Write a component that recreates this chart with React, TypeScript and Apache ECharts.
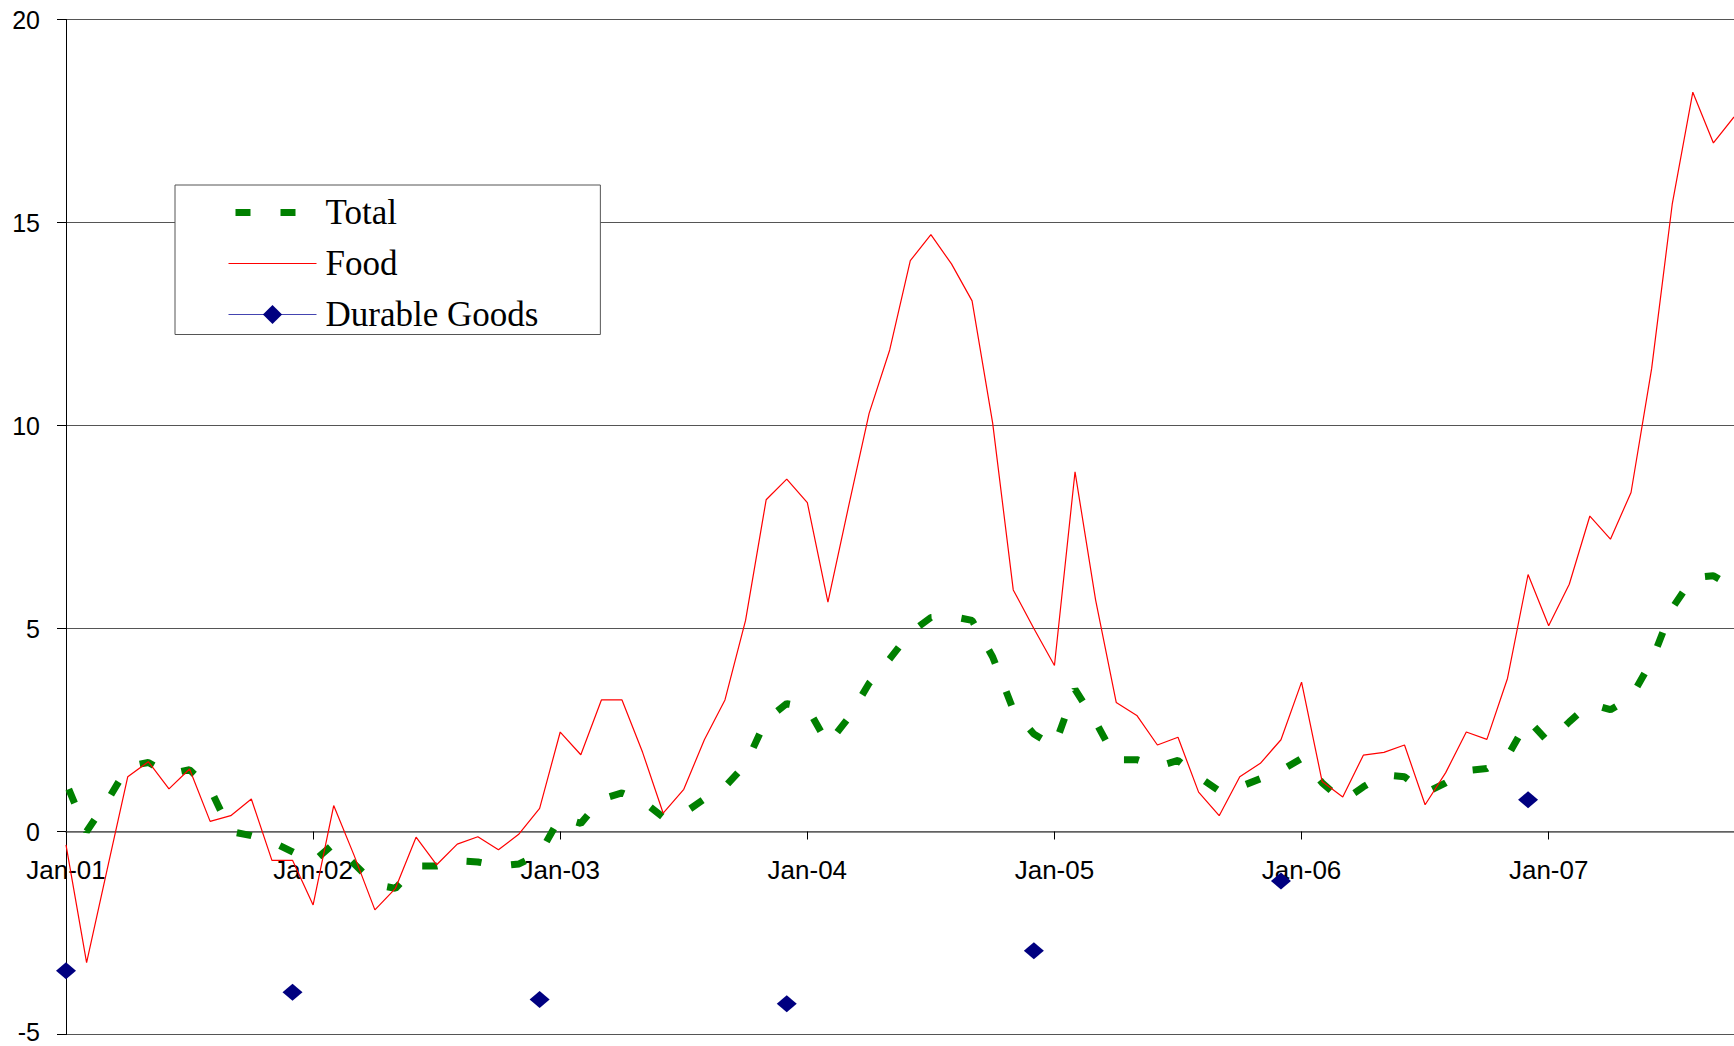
import { useEffect, useRef } from 'react';
import * as echarts from 'echarts';
import type { ECharts } from 'echarts';

// month / year parts of the category labels (Jan-01 ... Oct-07)
const monthNames = ['Jan', 'Feb', 'Mar', 'Apr', 'May', 'Jun', 'Jul', 'Aug', 'Sep', 'Oct', 'Nov', 'Dec'];
const yearNames = ['01', '02', '03', '04', '05', '06', '07'];
const monthCount = 82;

const categories: string[] = yearNames
    .flatMap(y => monthNames.map(m => `${m}-${y}`))
    .slice(0, monthCount);

// Total, 82 monthly values
const totalValues = [
    1.2, 0.0, 0.75, 1.6, 1.7, 1.42, 1.52, 1.05, 0.0, -0.1, -0.25, -0.5,
    -0.75, -0.3, -0.8, -1.3, -1.4, -0.85, -0.85, -0.72, -0.75, -0.85, -0.8, -0.55,
    0.35, 0.2, 0.8, 0.95, 0.75, 0.35, 0.45, 0.8, 1.1, 1.65, 2.75, 3.15,
    3.05, 2.15, 2.8, 3.65, 4.25, 4.9, 5.27, 5.3, 5.2, 4.3, 3.0, 2.4,
    2.1, 3.5, 2.7, 1.77, 1.77, 1.6, 1.75, 1.35, 1.0, 1.1, 1.3, 1.5,
    1.8, 1.2, 0.75, 1.1, 1.4, 1.35, 0.95, 1.2, 1.5, 1.55, 1.85, 2.75,
    2.2, 2.7, 3.15, 3.0, 3.3, 4.2, 5.5, 6.25, 6.3, 6.0,
];

// Food, 82 monthly values
const foodValues = [
    -0.33, -3.23, -0.93, 1.35, 1.72, 1.05, 1.54, 0.25, 0.39, 0.8, -0.71, -0.71,
    -1.81, 0.64, -0.6, -1.93, -1.4, -0.14, -0.82, -0.31, -0.13, -0.45, -0.06, 0.57,
    2.45, 1.89, 3.24, 3.24, 1.95, 0.45, 1.04, 2.26, 3.24, 5.2, 8.17, 8.68,
    8.1, 5.65, 8.0, 10.3, 11.86, 14.06, 14.7, 13.98, 13.07, 10.06, 5.95, 5.0,
    4.09, 8.86, 5.7, 3.18, 2.86, 2.13, 2.32, 0.97, 0.39, 1.35, 1.68, 2.26,
    3.68, 1.23, 0.85, 1.88, 1.95, 2.13, 0.66, 1.45, 2.45, 2.27, 3.77, 6.33,
    5.07, 6.09, 7.77, 7.2, 8.35, 11.4, 15.45, 18.21, 16.96, 17.6,
];

// Durable Goods, only a few observations
const durableMonths = ['Jan-01', 'Dec-01', 'Dec-02', 'Dec-03', 'Dec-04', 'Dec-05', 'Dec-06'];
const durableValues = [-3.43, -3.96, -4.14, -4.24, -2.94, -1.22, 0.78];

const durableSeries = categories.map(c => {
    const k = durableMonths.indexOf(c);
    return k >= 0 ? durableValues[k] : '-';
});

const yMin = -5;
const yMax = 20;

const sansFont = '"Liberation Sans", Arial, sans-serif';
const serifFont = '"Liberation Serif", "Times New Roman", serif';

const App = () => {
    const chartRef = useRef<HTMLDivElement>(null);

    useEffect(() => {
        let chart: ECharts | null = null;
        if (chartRef.current) {
            chart = echarts.init(chartRef.current, null, { renderer: 'svg' });

            const gridTop = 19.5;
            const gridBottom = 11.5;
            const plotHeight = 1046 - gridTop - gridBottom;
            // move the category axis up onto the zero line
            const zeroOffset = -plotHeight * (0 - yMin) / (yMax - yMin);

            chart.setOption({
                animation: false,
                backgroundColor: '#fff',
                grid: {
                    left: 66,
                    right: 0,
                    top: gridTop,
                    bottom: gridBottom,
                    containLabel: false,
                    outerBoundsMode: 'none',
                },
                legend: {
                    orient: 'vertical',
                    left: 175,
                    top: 185,
                    padding: [9.5, 62, 2, 50],
                    itemWidth: 88,
                    itemHeight: 24,
                    itemGap: 15,
                    backgroundColor: '#fff',
                    borderColor: '#555',
                    borderWidth: 1,
                    borderRadius: 0,
                    textStyle: {
                        fontFamily: serifFont,
                        fontSize: 35,
                        lineHeight: 36,
                        color: '#000',
                        padding: [0, 0, 0, 4],
                    },
                    data: [
                        {
                            name: 'Total',
                            itemStyle: { opacity: 0 },
                            lineStyle: { width: 7, type: [15, 30], dashOffset: -7, color: '#008000' },
                        },
                        {
                            name: 'Food',
                            itemStyle: { opacity: 0 },
                            lineStyle: { width: 1.2, color: '#ff0000' },
                        },
                        {
                            name: 'Durable Goods',
                            lineStyle: { width: 1, color: '#4444b0' },
                        },
                    ],
                },
                xAxis: {
                    type: 'category',
                    data: categories,
                    boundaryGap: false,
                    position: 'bottom',
                    offset: zeroOffset,
                    axisLine: {
                        onZero: false,
                        lineStyle: { color: '#666', width: 1.5 },
                    },
                    axisTick: {
                        show: true,
                        interval: 11,
                        length: 8,
                        lineStyle: { color: '#000', width: 1 },
                    },
                    axisLabel: {
                        interval: 11,
                        margin: 25,
                        fontFamily: sansFont,
                        fontSize: 26,
                        color: '#000',
                    },
                    splitLine: { show: false },
                },
                yAxis: {
                    type: 'value',
                    min: yMin,
                    max: yMax,
                    interval: 5,
                    axisLine: {
                        show: true,
                        lineStyle: { color: '#000', width: 1 },
                    },
                    axisTick: {
                        show: true,
                        length: 9,
                        lineStyle: { color: '#000', width: 1 },
                    },
                    axisLabel: {
                        margin: 26,
                        fontFamily: sansFont,
                        fontSize: 25,
                        lineHeight: 20,
                        color: '#000',
                        // the lowest label sits on the bottom edge; lift it a little
                        formatter: (v: number) => (v === yMin ? `{low|${v}}` : `${v}`),
                        rich: {
                            low: {
                                fontFamily: sansFont,
                                fontSize: 25,
                                lineHeight: 20,
                                color: '#000',
                                padding: [0, 0, 6, 0],
                            },
                        },
                    },
                    splitLine: {
                        show: true,
                        lineStyle: { color: '#555', width: 1 },
                    },
                },
                series: [
                    {
                        name: 'Total',
                        type: 'line',
                        data: totalValues,
                        symbol: 'none',
                        lineStyle: {
                            color: '#008000',
                            width: 7,
                            type: [15, 30],
                            dashOffset: -7,
                            cap: 'butt',
                        },
                        itemStyle: { color: '#008000' },
                    },
                    {
                        name: 'Food',
                        type: 'line',
                        data: foodValues,
                        symbol: 'none',
                        lineStyle: { color: '#ff0000', width: 1.2 },
                        itemStyle: { color: '#ff0000' },
                    },
                    {
                        name: 'Durable Goods',
                        type: 'line',
                        data: durableSeries,
                        symbol: 'diamond',
                        symbolSize: [20, 17],
                        showAllSymbol: true,
                        connectNulls: false,
                        lineStyle: { color: '#4444b0', width: 1 },
                        itemStyle: { color: '#000080' },
                    },
                ],
            });
        }

        return () => {
            chart?.dispose();
        };
    }, []);

    return (
        <div
            ref={chartRef}
            style={{
                position: 'absolute',
                left: 0,
                top: 0,
                width: '1734px',
                height: '1046px',
            }}
        />
    );
};

export default App;
